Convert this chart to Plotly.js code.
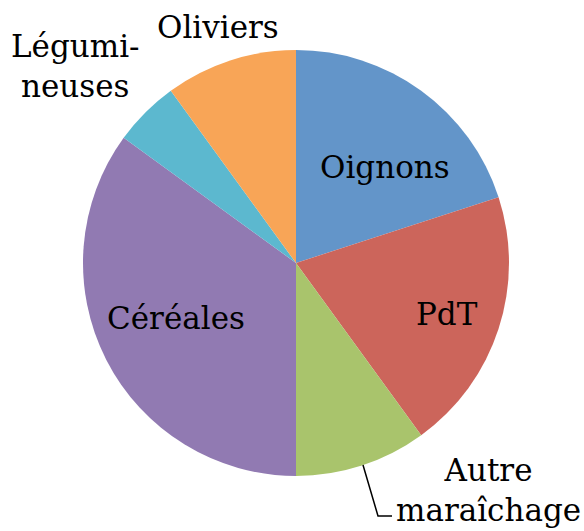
<!DOCTYPE html>
<html>
<head>
<meta charset="utf-8">
<script src="https://cdn.plot.ly/plotly-3.0.1.min.js"></script>
<style>
  html, body { margin: 0; padding: 0; background: #fff; }
  #chart { width: 584px; height: 531px; }
</style>
</head>
<body>
<div id="chart"></div>
<script>
// parts, clockwise from 12 o'clock
var cultures = ["Oignons", "PdT", "Autre maraîchage", "Céréales", "Légumineuses", "Oliviers"];
var parts = [20, 20, 10, 35, 5, 10];
var couleurs = ["#6395C9", "#CC655B", "#A9C46C", "#917AB2", "#5CB8CF", "#F8A557"];

// label text as drawn (line breaks)
var etiquettes = ["Oignons", "PdT", "Autre<br>maraîchage", "Céréales", "Légumi-<br>neuses", "Oliviers"];
// label centres in pixels
var posX = [385, 447, 488, 176, 75, 218];
var posY = [167, 314, 490, 318, 66, 27];

var W = 584, H = 531;
var police = { family: "DejaVu Serif", size: 31, color: "#000" };

var annots = [];
for (var i = 0; i < etiquettes.length; i++) {
  annots.push({
    text: etiquettes[i],
    x: posX[i] / W, y: 1 - posY[i] / H,
    xref: "paper", yref: "paper",
    xanchor: "center", yanchor: "middle",
    showarrow: false,
    align: "center",
    font: police
  });
}

var trace = {
  type: "pie",
  labels: cultures,
  values: parts,
  sort: false,
  direction: "clockwise",
  rotation: 0,
  textinfo: "none",
  hoverinfo: "label+percent",
  marker: { colors: couleurs, line: { width: 0 } },
  domain: { x: [83 / W, 509 / W], y: [1 - 476 / H, 1 - 50 / H] }
};

// leader line for Autre maraîchage
var ligne = {
  type: "path",
  xref: "paper", yref: "paper",
  path: "M " + (363 / W) + " " + (1 - 465 / H) +
        " L " + (378 / W) + " " + (1 - 516 / H) +
        " L " + (392 / W) + " " + (1 - 516 / H),
  line: { color: "#000", width: 1.5 }
};

var layout = {
  width: W, height: H,
  margin: { l: 0, r: 0, t: 0, b: 0 },
  showlegend: false,
  paper_bgcolor: "#fff",
  annotations: annots,
  shapes: [ligne]
};

Plotly.newPlot("chart", [trace], layout, { staticPlot: true });
</script>
</body>
</html>
